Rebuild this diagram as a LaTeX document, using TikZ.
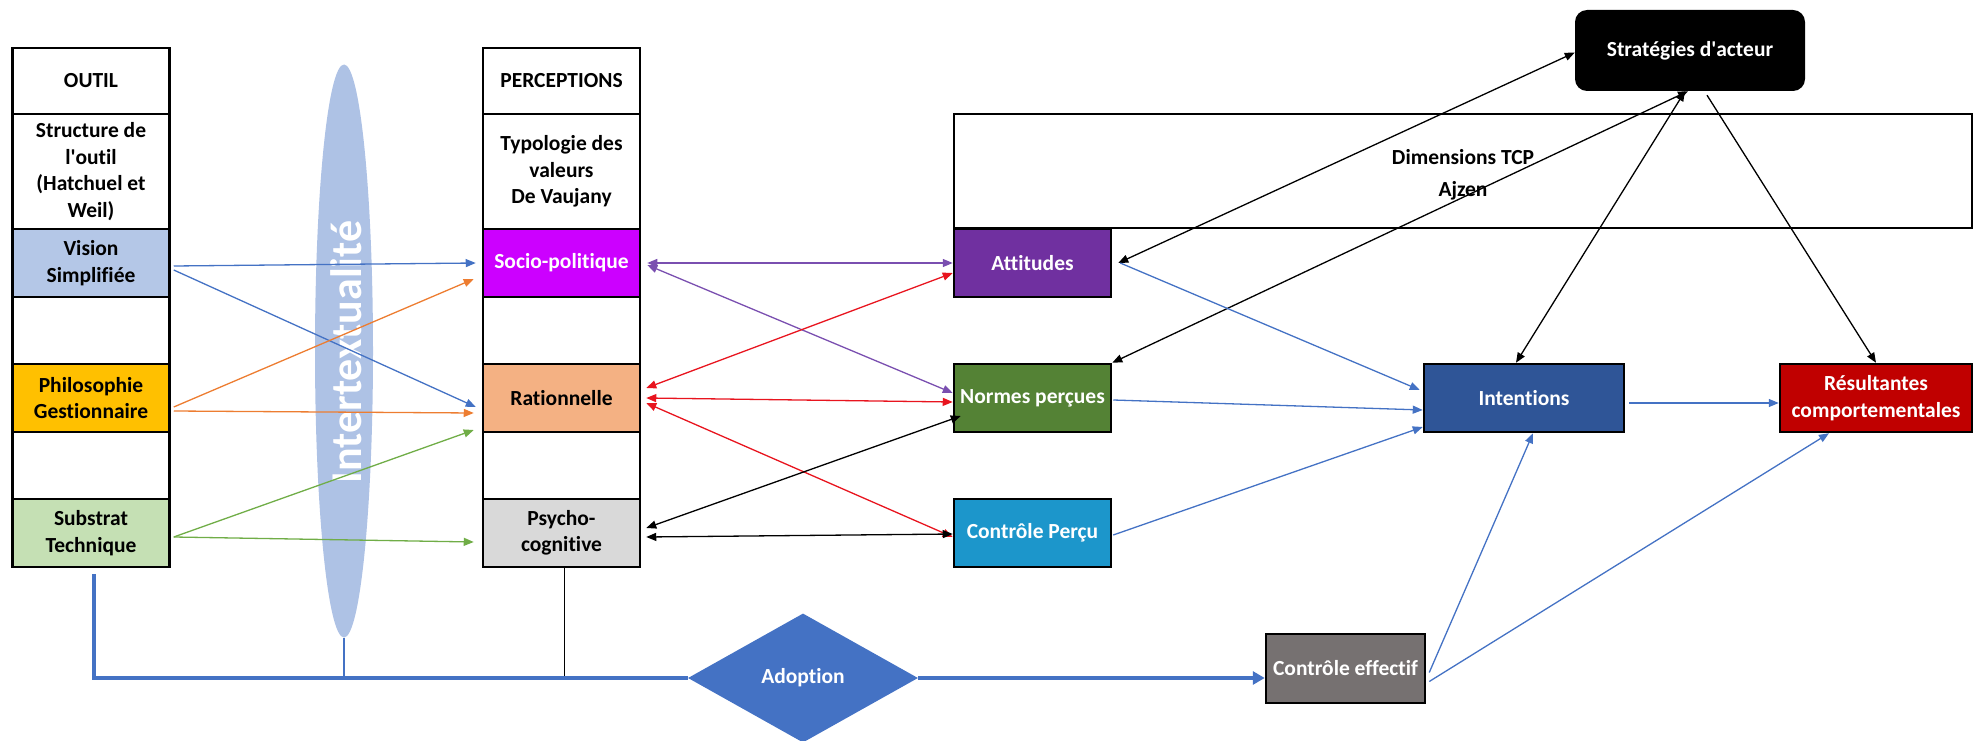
\documentclass[tikz,border=0pt]{standalone}
\usepackage{fontspec}
\setmainfont{Carlito}[Ligatures={NoCommon}]
\usetikzlibrary{arrows.meta,shapes.geometric,calc}
\definecolor{visionC}{HTML}{B4C7E7}
\definecolor{philoC}{HTML}{FFC000}
\definecolor{substratC}{HTML}{C5E0B4}
\definecolor{socioC}{HTML}{CC00FF}
\definecolor{ratC}{HTML}{F4B183}
\definecolor{psyC}{HTML}{D9D9D9}
\definecolor{attC}{HTML}{7030A0}
\definecolor{normC}{HTML}{548235}
\definecolor{cpC}{HTML}{1C96CB}
\definecolor{intC}{HTML}{2F5597}
\definecolor{resC}{HTML}{C00000}
\definecolor{ceC}{HTML}{767171}
\definecolor{adoC}{HTML}{4472C4}
\definecolor{ellC}{HTML}{AEC2E5}
\definecolor{arBlue}{HTML}{4472C4}
\definecolor{arOrange}{HTML}{ED7D31}
\definecolor{arGreen}{HTML}{70AD47}
\definecolor{arPurple}{HTML}{7A4FB0}
\definecolor{arRed}{HTML}{E8141E}
\begin{document}
\begin{tikzpicture}[x=1pt,y=-1pt,
  font=\bfseries\fontsize{21.5}{26.5}\selectfont,
  cell/.style={draw=black,line width=2.5pt,minimum width=157pt,inner sep=2pt,align=center},
  wcell/.style={cell,text=white},
  conn/.style={line width=1.3pt,-{Triangle[length=10pt,width=8pt]}},
  biconn/.style={line width=1.3pt,{Triangle[length=10pt,width=8pt]}-{Triangle[length=10pt,width=8pt]}}]
\useasboundingbox (0,0) rectangle (1979,741);

% intertextualite ellipse
\node[ellipse,fill=ellC,minimum width=58pt,minimum height=573pt,inner sep=0pt] (itx) at (344,351) {};
\node[rotate=90,text=white,font=\bfseries\fontsize{44}{44}\selectfont] (itxlabel) at (346,352) {Intertextualité};

% left column
\node[cell,minimum height=66pt] (outil) at (91,81) {OUTIL};
\node[cell,minimum height=115pt] (struct) at (91,171.5) {Structure de\\l\textquotesingle outil\\(Hatchuel et\\Weil)};
\node[cell,fill=visionC,minimum height=68pt] (vis) at (91,263) {Vision\\Simplifiée};
\node[cell,minimum height=67pt] (e1) at (91,330.5) {};
\node[cell,fill=philoC,minimum height=68pt] (phi) at (91,398) {Philosophie\\Gestionnaire};
\node[cell,minimum height=67pt] (e2) at (91,465.5) {};
\node[cell,fill=substratC,minimum height=68pt] (sub) at (91,533) {Substrat\\Technique};

% middle column
\node[cell,minimum height=66pt] (perc) at (561.5,81) {PERCEPTIONS};
\node[cell,minimum height=115pt] (typo) at (561.5,171.5) {Typologie des\\valeurs\\De Vaujany};
\node[wcell,fill=socioC,minimum height=68pt] (soc) at (561.5,263) {Socio-politique};
\node[cell,minimum height=67pt] (e3) at (561.5,330.5) {};
\node[cell,fill=ratC,minimum height=68pt] (rat) at (561.5,398) {Rationnelle};
\node[cell,minimum height=67pt] (e4) at (561.5,465.5) {};
\node[cell,fill=psyC,minimum height=68pt] (psy) at (561.5,533) {Psycho-\\cognitive};

% Ajzen
\node[draw=black,line width=2.5pt,minimum width=1018pt,minimum height=114pt] (dim) at (1463,171) {};
\node[align=center] (dimlabel) at (1463,175) {Dimensions TCP\\[5pt]Ajzen};
\node[wcell,fill=attC,minimum height=68pt] (att) at (1032.5,263) {Attitudes};
\node[wcell,fill=normC,minimum height=68pt] (nor) at (1032.5,398) {Normes perçues};
\node[wcell,fill=cpC,minimum height=68pt] (cp) at (1032.5,533) {Contrôle Perçu};
\node[wcell,fill=intC,minimum width=200pt,minimum height=68pt] (int) at (1524,398) {Intentions};
\node[wcell,fill=resC,minimum width=192pt,minimum height=68pt] (res) at (1876,398) {Résultantes\\comportementales};
\node[fill=black,text=white,rounded corners=12pt,minimum width=230pt,minimum height=81pt,align=center] (str) at (1690,50.5) {Stratégies d\textquotesingle acteur};
\node[wcell,fill=ceC,minimum width=159pt,minimum height=69pt] (ce) at (1345.5,668.5) {Contrôle effectif};

% bottom lines
\node[diamond,fill=adoC,text=white,minimum width=230pt,minimum height=129pt,inner sep=1pt] (ado) at (803,678) {Adoption};
\draw[arBlue,line width=1.3pt] (itx.south) -- (itx.south |- ado.west);
\draw[black,line width=1.3pt] ([xshift=3pt]psy.south) -- ([xshift=3pt]psy.south |- ado.west);
\draw[arBlue,line width=4pt] ([xshift=3pt,yshift=-6pt]sub.south) |- (ado.west);
\draw[arBlue,line width=4pt,-{Triangle[length=12pt,width=13pt]}] (ado.east) -- (ado.east -| ce.west);

% left -> middle
\draw[conn,arBlue] ([xshift=3pt,yshift=-3pt]vis.east) -- ([xshift=-6pt]soc.west);
\draw[conn,arBlue] ([xshift=3pt,yshift=-7pt]vis.east) -- ([xshift=-6pt,yshift=-9pt]rat.west);
\draw[conn,arOrange] ([xshift=3pt,yshift=-9pt]phi.east) -- ([xshift=-8pt,yshift=-16pt]soc.west);
\draw[conn,arOrange] ([xshift=3pt,yshift=-13pt]phi.east) -- ([xshift=-8pt,yshift=-15pt]rat.west);
\draw[conn,arGreen] ([xshift=3pt,yshift=-4pt]sub.east) -- ([xshift=-8pt,yshift=-32pt]rat.west);
\draw[conn,arGreen] ([xshift=3pt,yshift=-4pt]sub.east) -- ([xshift=-8pt,yshift=-9pt]psy.west);

% middle <-> Ajzen
\draw[biconn,arPurple] ([xshift=6pt]soc.east) -- (att.west);
\draw[biconn,arPurple] ([xshift=6pt,yshift=-2pt]soc.east) -- ([yshift=5pt]nor.west);
\draw[biconn,arRed] ([xshift=5pt,yshift=10pt]rat.east) -- ([yshift=-10pt]att.west);
\draw[biconn,arRed] ([xshift=5pt]rat.east) -- ([yshift=-4pt]nor.west);
\draw[biconn,arRed] ([xshift=5pt,yshift=-5pt]rat.east) -- ([yshift=-4pt]cp.west);
\draw[biconn,black] ([xshift=5pt,yshift=5pt]psy.east) -- ([xshift=8pt,yshift=-18pt]nor.west);
\draw[biconn,black] ([xshift=5pt,yshift=-4pt]psy.east) -- ([yshift=-1pt]cp.west);

% strategies
\draw[biconn,black] ([yshift=-2pt]str.west) -- ([xshift=6pt]att.east);
\draw[biconn,black] ([xshift=-2pt]str.south) -- (nor.north east);
\draw[biconn,black] ([xshift=-5pt]str.south) -- ([xshift=-8pt]int.north);
\draw[conn,black] ([xshift=17pt,yshift=-4pt]str.south) -- (res.north);

% Ajzen -> intentions / resultantes
\draw[conn,arBlue] ([xshift=8pt]att.east) -- ([xshift=-3pt,yshift=8pt]int.west);
\draw[conn,arBlue] ([xshift=1pt,yshift=-2pt]nor.east) -- ([yshift=-12pt]int.west);
\draw[conn,arBlue] ([xshift=1pt,yshift=-2pt]cp.east) -- ([yshift=-29pt]int.west);
\draw[conn,arBlue] ([xshift=4pt,yshift=-5pt]int.east) -- ([yshift=-5pt]res.west);
\draw[conn,arBlue] ([xshift=3pt,yshift=-4pt]ce.east) -- ([xshift=9pt]int.south);
\draw[conn,arBlue] ([xshift=3pt,yshift=-13pt]ce.east) -- ([xshift=-47pt]res.south);
\end{tikzpicture}
\end{document}
